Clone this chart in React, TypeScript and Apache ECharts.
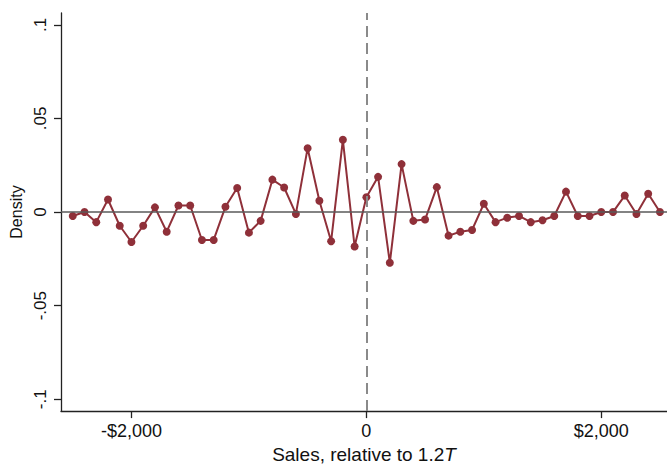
import React, { useEffect, useRef } from "react";
import * as echarts from "echarts";

const xValues: number[] = [
  -2500, -2400, -2300, -2200, -2100, -2000, -1900, -1800, -1700, -1600,
  -1500, -1400, -1300, -1200, -1100, -1000, -900, -800, -700, -600,
  -500, -400, -300, -200, -100, 0, 100, 200, 300, 400,
  500, 600, 700, 800, 900, 1000, 1100, 1200, 1300, 1400,
  1500, 1600, 1700, 1800, 1900, 2000, 2100, 2200, 2300, 2400, 2500,
];

const densityValues: number[] = [
  -0.0021, 0.0, -0.0054, 0.0067, -0.0073, -0.016, -0.0073, 0.0025, -0.0105, 0.0035,
  0.0035, -0.0149, -0.0149, 0.0028, 0.0128, -0.011, -0.0047, 0.0173, 0.0131, -0.001,
  0.0341, 0.006, -0.0156, 0.0386, -0.0184, 0.0079, 0.0188, -0.0271, 0.0256, -0.0047,
  -0.004, 0.0133, -0.0126, -0.0105, -0.0096, 0.0044, -0.0054, -0.003, -0.0021, -0.0054,
  -0.0044, -0.0021, 0.0109, -0.0021, -0.0021, 0.0, 0.0, 0.0088, -0.001, 0.0098, 0.0,
];

const xTickValues: number[] = [-2000, 0, 2000];
const xTickLabels: string[] = ["-$2,000", "0", "$2,000"];
const yTickValues: number[] = [-0.1, -0.05, 0, 0.05, 0.1];
const yTickLabels: string[] = ["-.1", "-.05", "0", ".05", ".1"];

const FONT = "'Liberation Sans', Arial, Helvetica, sans-serif";
const RED = "#8f3039";

export default function App() {
  const ref = useRef<HTMLDivElement>(null);
  useEffect(() => {
    if (!ref.current) return;
    const chart = echarts.init(ref.current, undefined, { renderer: "svg" });
    const data = xValues.map((x, i) => [x, densityValues[i]]);
    chart.setOption({
      animation: false,
      backgroundColor: "#ffffff",
      textStyle: { fontFamily: FONT },
      grid: { left: 61, right: 0, top: 13, bottom: 51 },
      xAxis: {
        type: "value",
        min: -2600,
        max: 2560,
        name: "Sales, relative to 1.2{i|T}",
        nameLocation: "middle",
        nameGap: 30,
        nameTextStyle: {
          fontSize: 19,
          color: "#111",
          fontFamily: FONT,
          rich: { i: { fontStyle: "italic", fontSize: 19, color: "#111", fontFamily: FONT } },
        },
        splitLine: { show: false },
        axisLine: { show: true, onZero: false, lineStyle: { color: "#222", width: 1.3 } },
        axisTick: {
          show: true,
          customValues: xTickValues,
          length: 7,
          lineStyle: { color: "#222", width: 1.3 },
        },
        axisLabel: {
          customValues: xTickValues,
          fontSize: 18,
          color: "#111",
          margin: 11,
          fontFamily: FONT,
          formatter: (v: number) => {
            const idx = xTickValues.indexOf(v);
            return idx >= 0 ? xTickLabels[idx] : "";
          },
        },
      },
      yAxis: {
        type: "value",
        min: -0.1063,
        max: 0.1063,
        name: "Density",
        nameLocation: "middle",
        nameGap: 36,
        nameRotate: 90,
        nameTextStyle: { fontSize: 16, color: "#111", fontFamily: FONT },
        splitLine: { show: false },
        axisLine: { show: true, onZero: false, lineStyle: { color: "#222", width: 1.3 } },
        axisTick: {
          show: true,
          customValues: yTickValues,
          length: 7,
          lineStyle: { color: "#222", width: 1.3 },
        },
        axisLabel: {
          customValues: yTickValues,
          rotate: 90,
          fontSize: 17,
          color: "#111",
          margin: 12,
          fontFamily: FONT,
          formatter: (v: number) => {
            let idx = -1;
            yTickValues.forEach((t, i) => {
              if (Math.abs(t - v) < 1e-9) idx = i;
            });
            return idx >= 0 ? yTickLabels[idx] : "";
          },
        },
      },
      series: [
        {
          type: "line",
          data: [],
          z: 1,
          silent: true,
          markLine: {
            silent: true,
            symbol: "none",
            label: { show: false },
            animation: false,
            data: [
              { yAxis: 0, lineStyle: { color: "#5a5a5a", width: 1.6, type: "solid" } },
              { xAxis: 0, lineStyle: { color: "#8a8a8a", width: 2, type: [11, 6] } },
            ],
          },
        },
        {
          type: "line",
          data,
          z: 3,
          symbol: "circle",
          symbolSize: 8,
          showSymbol: true,
          lineStyle: { color: RED, width: 2 },
          itemStyle: { color: RED },
        },
      ],
    });
    return () => chart.dispose();
  }, []);
  return (
    <div
      ref={ref}
      style={{ position: "fixed", left: 0, top: 0, width: 667, height: 469 }}
    />
  );
}
